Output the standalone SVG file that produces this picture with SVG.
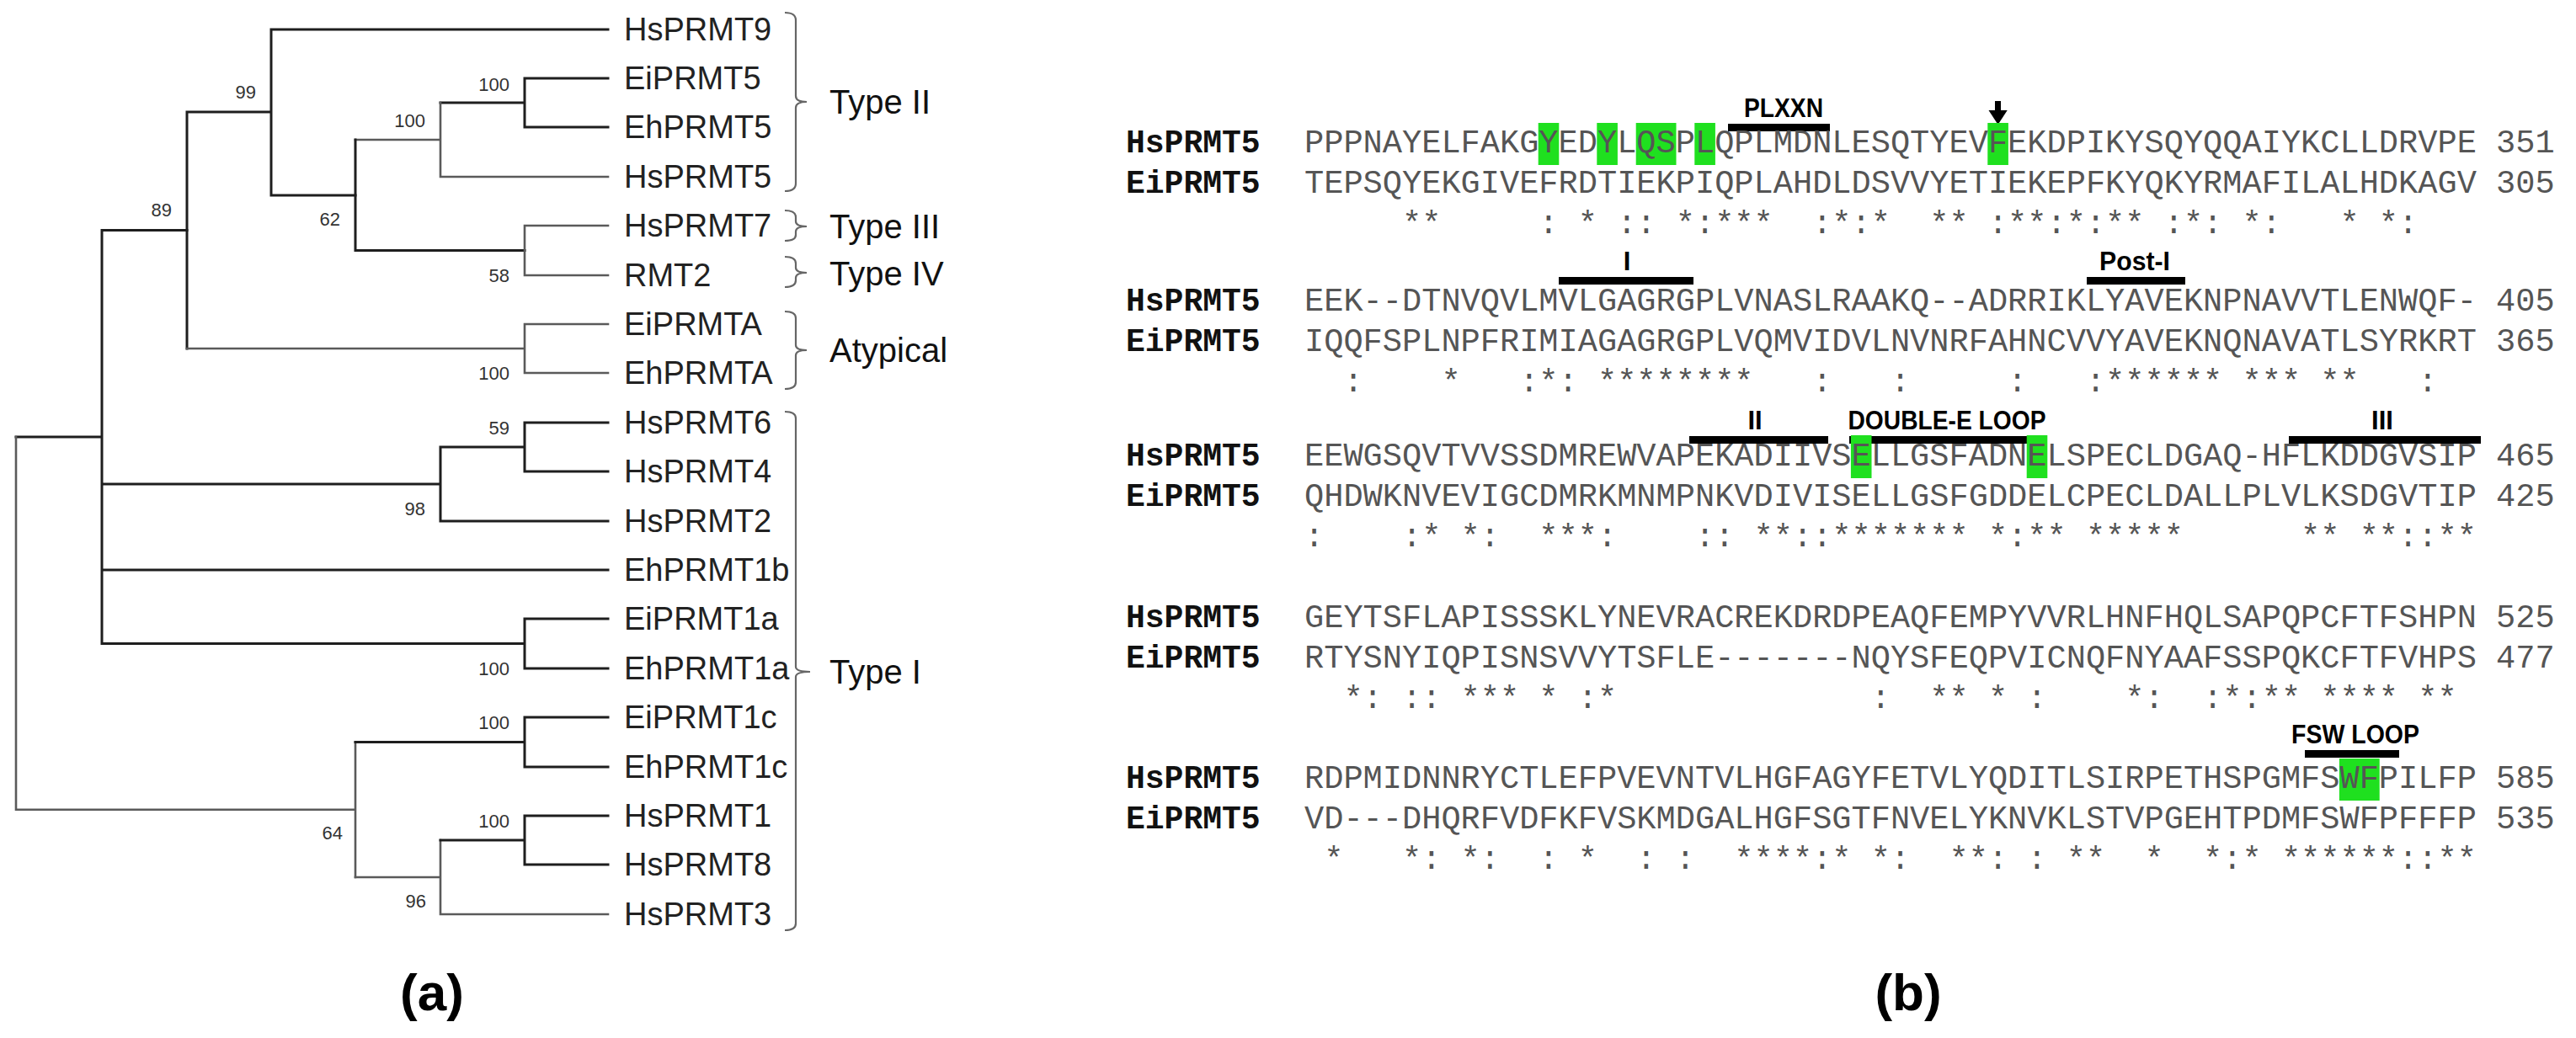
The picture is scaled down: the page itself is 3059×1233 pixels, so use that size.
<svg xmlns="http://www.w3.org/2000/svg" width="3059" height="1233" viewBox="0 0 3059 1233">
<style>
.d{stroke:#1e1e1e;stroke-width:3;fill:none;stroke-linecap:square}
.g{stroke:#5a5a5a;stroke-width:2.6;fill:none;stroke-linecap:square}
.br{stroke:#666;stroke-width:2.2;fill:none}
.leaf{font-family:"Liberation Sans",Arial,sans-serif;font-size:38px;fill:#222}
.bs{font-family:"Liberation Sans",Arial,sans-serif;font-size:22px;fill:#333;text-anchor:end}
.typ{font-family:"Liberation Sans",Arial,sans-serif;font-size:40px;fill:#111}
.seq{font-family:"Liberation Mono","Courier New",monospace;font-size:38.667px;fill:#555;white-space:pre}
.nm{font-family:"Liberation Mono","Courier New",monospace;font-size:38px;font-weight:bold;fill:#111}
.mot{font-family:"Liberation Sans Narrow","Liberation Sans",Arial,sans-serif;font-weight:bold;font-size:31px;fill:#000;text-anchor:middle}
.bar{fill:#000}
.hl{fill:#1fe01f}
.pl{font-family:"Liberation Sans",Arial,sans-serif;font-weight:bold;font-size:62px;fill:#000;text-anchor:middle}
</style>
<rect x="0" y="0" width="3059" height="1233" fill="#fff"/>

<!-- ===== (a) phylogenetic tree ===== -->
<g id="tree-branches">
<path class="d" d="M322 35H722M322 35V232M322 232H422M222 133H322M222 133V414"/>
<path class="d" d="M623 93H722M623 151H722M623 93V151M523 122H623"/>
<path class="g" d="M523 122V210M523 210H722M422 166H523"/>
<path class="d" d="M422 166V297.5M422 297.5H623"/>
<path class="g" d="M623 268V327M623 268H722M623 327H722"/>
<path class="g" d="M222 414H623M623 385V443M623 385H722M623 443H722"/>
<path class="d" d="M121 273.5H222M121 273.5V764.5M121 575H523M523 531V619M523 531H623M623 502V560M623 502H722M623 560H722M523 619H722M121 677H722M121 764.5H623M623 735V794M623 735H722M623 794H722M19 519H121"/>
<path class="g" d="M19 519V961.7M19 961.7H422M422 881.5V1042"/>
<path class="d" d="M422 881.5H623M623 852V911M623 852H722M623 911H722"/>
<path class="g" d="M422 1042H523M523 998V1086M523 1086H722"/>
<path class="d" d="M523 998H623M623 969V1027M623 969H722M623 1027H722"/>
</g>

<g id="bootstrap">
<text class="bs" x="304" y="117">99</text>
<text class="bs" x="204" y="257">89</text>
<text class="bs" x="605" y="108">100</text>
<text class="bs" x="505" y="151">100</text>
<text class="bs" x="404" y="268">62</text>
<text class="bs" x="605" y="335">58</text>
<text class="bs" x="605" y="451">100</text>
<text class="bs" x="605" y="516">59</text>
<text class="bs" x="505" y="612">98</text>
<text class="bs" x="605" y="802">100</text>
<text class="bs" x="605" y="866">100</text>
<text class="bs" x="407" y="997">64</text>
<text class="bs" x="605" y="983">100</text>
<text class="bs" x="506" y="1078">96</text>
</g>

<g id="leaf-HsPRMT9"><text class="leaf" x="741" y="48">HsPRMT9</text></g>
<g id="leaf-EiPRMT5"><text class="leaf" x="741" y="106">EiPRMT5</text></g>
<g id="leaf-EhPRMT5"><text class="leaf" x="741" y="164">EhPRMT5</text></g>
<g id="leaf-HsPRMT5"><text class="leaf" x="741" y="223">HsPRMT5</text></g>
<g id="leaf-HsPRMT7"><text class="leaf" x="741" y="281">HsPRMT7</text></g>
<g id="leaf-RMT2"><text class="leaf" x="741" y="340">RMT2</text></g>
<g id="leaf-EiPRMTA"><text class="leaf" x="741" y="398">EiPRMTA</text></g>
<g id="leaf-EhPRMTA"><text class="leaf" x="741" y="456">EhPRMTA</text></g>
<g id="leaf-HsPRMT6"><text class="leaf" x="741" y="515">HsPRMT6</text></g>
<g id="leaf-HsPRMT4"><text class="leaf" x="741" y="573">HsPRMT4</text></g>
<g id="leaf-HsPRMT2"><text class="leaf" x="741" y="632">HsPRMT2</text></g>
<g id="leaf-EhPRMT1b"><text class="leaf" x="741" y="690">EhPRMT1b</text></g>
<g id="leaf-EiPRMT1a"><text class="leaf" x="741" y="748">EiPRMT1a</text></g>
<g id="leaf-EhPRMT1a"><text class="leaf" x="741" y="807">EhPRMT1a</text></g>
<g id="leaf-EiPRMT1c"><text class="leaf" x="741" y="865">EiPRMT1c</text></g>
<g id="leaf-EhPRMT1c"><text class="leaf" x="741" y="924">EhPRMT1c</text></g>
<g id="leaf-HsPRMT1"><text class="leaf" x="741" y="982">HsPRMT1</text></g>
<g id="leaf-HsPRMT8"><text class="leaf" x="741" y="1040">HsPRMT8</text></g>
<g id="leaf-HsPRMT3"><text class="leaf" x="741" y="1099">HsPRMT3</text></g>

<g id="group-type2">
<path class="br" d="M932 15Q945 15 945 24V114Q945 121 958 121Q945 121 945 128V218Q945 227 932 227"/>
<text class="typ" x="985" y="135">Type II</text>
</g>
<g id="group-type3">
<path class="br" d="M932 250Q945 250 945 258V263Q945 269 958 269Q945 269 945 275V279Q945 286 932 286"/>
<text class="typ" x="985" y="283">Type III</text>
</g>
<g id="group-type4">
<path class="br" d="M932 305Q945 305 945 313V318Q945 324 958 324Q945 324 945 330V333Q945 341 932 341"/>
<text class="typ" x="985" y="339">Type IV</text>
</g>
<g id="group-atypical">
<path class="br" d="M932 370Q945 370 945 378V410Q945 416 958 416Q945 416 945 422V454Q945 462 932 462"/>
<text class="typ" x="985" y="430">Atypical</text>
</g>
<g id="group-type1">
<path class="br" d="M932 489Q945 489 945 497V792Q945 798 962 798Q945 798 945 804V1097Q945 1105 932 1105"/>
<text class="typ" x="985" y="812">Type I</text>
</g>

<g id="label-a"><text class="pl" x="513" y="1200">(a)</text></g>

<!-- ===== (b) alignment ===== -->
<g id="motifs">
<rect class="bar" x="2052" y="147" width="121" height="9"/>
<text class="mot" x="2118" y="139" textLength="94" lengthAdjust="spacingAndGlyphs">PLXXN</text>
<rect x="2369" y="120" width="7" height="14" fill="#000"/>
<polygon points="2361.5,131 2383.7,131 2372.6,148" fill="#000"/>

<rect class="bar" x="1851" y="329" width="160" height="9"/>
<text class="mot" x="1932" y="321">I</text>
<rect class="bar" x="2478" y="329" width="117" height="9"/>
<text class="mot" x="2535" y="321" textLength="84" lengthAdjust="spacingAndGlyphs">Post-I</text>

<rect class="bar" x="2006" y="518" width="165" height="9"/>
<text class="mot" x="2084" y="510">II</text>
<rect class="bar" x="2196" y="518" width="224" height="9"/>
<text class="mot" x="2312" y="510" textLength="235" lengthAdjust="spacingAndGlyphs">DOUBLE-E LOOP</text>
<rect class="bar" x="2718" y="518" width="228" height="9"/>
<text class="mot" x="2829" y="510">III</text>

<rect class="bar" x="2737" y="891" width="112" height="9"/>
<text class="mot" x="2797" y="883" textLength="152" lengthAdjust="spacingAndGlyphs">FSW LOOP</text>
</g>

<g id="highlights">
<rect class="hl" x="1826.7" y="146" width="24.6" height="50"/>
<rect class="hl" x="1896.3" y="146" width="24.6" height="50"/>
<rect class="hl" x="1942.7" y="146" width="47.8" height="50"/>
<rect class="hl" x="2012.3" y="146" width="24.6" height="50"/>
<rect class="hl" x="2360.3" y="146" width="24.6" height="50"/>
<rect class="hl" x="2197.9" y="517" width="24.6" height="51"/>
<rect class="hl" x="2406.7" y="517" width="24.6" height="51"/>
<rect class="hl" x="2777.9" y="901" width="47.8" height="50"/>
</g>

<g id="block1">
<text class="nm" x="1337" y="181">HsPRMT5</text>
<text class="nm" x="1337" y="229">EiPRMT5</text>
<text class="seq" x="1549" y="181">PPPNAYELFAKGYEDYLQSPLQPLMDNLESQTYEVFEKDPIKYSQYQQAIYKCLLDRVPE 351</text>
<text class="seq" x="1549" y="229">TEPSQYEKGIVEFRDTIEKPIQPLAHDLDSVVYETIEKEPFKYQKYRMAFILALHDKAGV 305</text>
<text class="seq" x="1549" y="277" xml:space="preserve">     **     : * :: *:***  :*:*  ** :**:*:** :*: *:   * *:</text>
</g>
<g id="block2">
<text class="nm" x="1337" y="369">HsPRMT5</text>
<text class="nm" x="1337" y="417">EiPRMT5</text>
<text class="seq" x="1549" y="369">EEK--DTNVQVLMVLGAGRGPLVNASLRAAKQ--ADRRIKLYAVEKNPNAVVTLENWQF- 405</text>
<text class="seq" x="1549" y="417">IQQFSPLNPFRIMIAGAGRGPLVQMVIDVLNVNRFAHNCVVYAVEKNQNAVATLSYRKRT 365</text>
<text class="seq" x="1549" y="465" xml:space="preserve">  :    *   :*: ********   :   :     :   :****** *** **   :</text>
</g>
<g id="block3">
<text class="nm" x="1337" y="553">HsPRMT5</text>
<text class="nm" x="1337" y="601">EiPRMT5</text>
<text class="seq" x="1549" y="553">EEWGSQVTVVSSDMREWVAPEKADIIVSELLGSFADNELSPECLDGAQ-HFLKDDGVSIP 465</text>
<text class="seq" x="1549" y="601">QHDWKNVEVIGCDMRKMNMPNKVDIVISELLGSFGDDELCPECLDALLPLVLKSDGVTIP 425</text>
<text class="seq" x="1549" y="649" xml:space="preserve">:    :* *:  ***:    :: **::******* *:** *****      ** **::**</text>
</g>
<g id="block4">
<text class="nm" x="1337" y="745">HsPRMT5</text>
<text class="nm" x="1337" y="793">EiPRMT5</text>
<text class="seq" x="1549" y="745">GEYTSFLAPISSSKLYNEVRACREKDRDPEAQFEMPYVVRLHNFHQLSAPQPCFTFSHPN 525</text>
<text class="seq" x="1549" y="793">RTYSNYIQPISNSVVYTSFLE-------NQYSFEQPVICNQFNYAAFSSPQKCFTFVHPS 477</text>
<text class="seq" x="1549" y="841" xml:space="preserve">  *: :: *** * :*             :  ** * :    *:  :*:** **** **</text>
</g>
<g id="block5">
<text class="nm" x="1337" y="936">HsPRMT5</text>
<text class="nm" x="1337" y="984">EiPRMT5</text>
<text class="seq" x="1549" y="936">RDPMIDNNRYCTLEFPVEVNTVLHGFAGYFETVLYQDITLSIRPETHSPGMFSWFPILFP 585</text>
<text class="seq" x="1549" y="984">VD---DHQRFVDFKFVSKMDGALHGFSGTFNVELYKNVKLSTVPGEHTPDMFSWFPFFFP 535</text>
<text class="seq" x="1549" y="1032" xml:space="preserve"> *   *: *:  : *  : :  ****:* *:  **: : **  *  *:* ******::**</text>
</g>

<g id="label-b"><text class="pl" x="2266" y="1200">(b)</text></g>
</svg>
